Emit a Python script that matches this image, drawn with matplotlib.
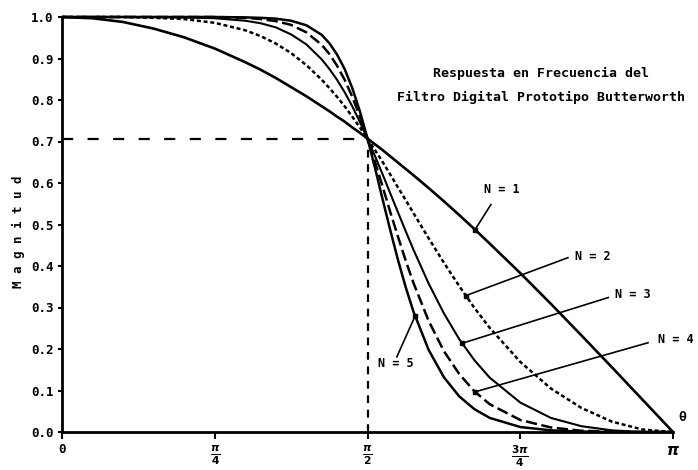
import numpy as np
import matplotlib
matplotlib.use('Agg')
import matplotlib.pyplot as plt

# Frequency (in units of pi) and magnitude, one list per order N
w_pi = [0, .05, .1, .15, .2, .25, .3, .325, .35, .375, .4, .425, .4375, .45, .4625,
        .475, .4875, .5, .5125, .525, .5375, .55, .5625, .575, .6, .625, .65, .675,
        .7, .75, .8, .85, .9, .95, 1.0]
mag_n1 = [1.000, 0.997, 0.988, 0.972, 0.951, 0.924, 0.891, 0.873, 0.853, 0.831,
          0.809, 0.785, 0.773, 0.760, 0.748, 0.734, 0.721, 0.707, 0.693, 0.679,
          0.664, 0.649, 0.634, 0.619, 0.588, 0.556, 0.523, 0.489, 0.454, 0.383,
          0.309, 0.233, 0.156, 0.078, 0.000]
mag_n2 = [1.000, 1.000, 1.000, 0.998, 0.995, 0.986, 0.968, 0.954, 0.936, 0.913,
          0.884, 0.849, 0.829, 0.808, 0.785, 0.760, 0.734, 0.707, 0.679, 0.650,
          0.620, 0.589, 0.559, 0.528, 0.467, 0.408, 0.352, 0.299, 0.251, 0.169,
          0.105, 0.058, 0.025, 0.006, 0.000]
mag_n3 = [1.000, 1.000, 1.000, 1.000, 0.999, 0.997, 0.991, 0.985, 0.975, 0.958,
          0.934, 0.898, 0.875, 0.849, 0.819, 0.785, 0.747, 0.707, 0.664, 0.620,
          0.574, 0.529, 0.484, 0.440, 0.358, 0.286, 0.224, 0.173, 0.131, 0.071,
          0.034, 0.014, 0.004, 0.000, 0.000]
mag_n4 = [1.000, 1.000, 1.000, 1.000, 1.000, 1.000, 0.998, 0.995, 0.990, 0.981,
          0.963, 0.933, 0.911, 0.883, 0.849, 0.808, 0.760, 0.707, 0.650, 0.590,
          0.529, 0.470, 0.413, 0.360, 0.268, 0.195, 0.140, 0.098, 0.067, 0.029,
          0.011, 0.003, 0.001, 0.000, 0.000]
mag_n5 = [1.000, 1.000, 1.000, 1.000, 1.000, 1.000, 0.999, 0.998, 0.996, 0.991,
          0.980, 0.957, 0.937, 0.910, 0.875, 0.829, 0.773, 0.707, 0.635, 0.559,
          0.485, 0.414, 0.349, 0.291, 0.198, 0.132, 0.086, 0.055, 0.034, 0.012,
          0.004, 0.001, 0.000, 0.000, 0.000]

orders = [1, 2, 3, 4, 5]
curves = [mag_n1, mag_n2, mag_n3, mag_n4, mag_n5]
cutoff = 0.707

xtick_pos = [0, 0.25, 0.5, 0.75, 1.0]
xtick_labels = ['0', r'$\frac{\pi}{4}$', r'$\frac{\pi}{2}$', r'$\frac{3\pi}{4}$', r'$\pi$']
ytick_pos = [0.0, 0.1, 0.2, 0.3, 0.4, 0.5, 0.6, 0.7, 0.8, 0.9, 1.0]

# where each "N = k" pointer touches its curve (x in units of pi)
pointer_x = [0.676, 0.661, 0.655, 0.676, 0.578]

plt.rcParams['font.family'] = ['DejaVu Sans Mono']
plt.rcParams['font.weight'] = 'bold'

fig = plt.figure(figsize=(6.98, 4.70), dpi=100)
ax = fig.add_axes([62 / 698, 38 / 470, 611 / 698, 415 / 470])

w = np.array(w_pi) * np.pi
styles = [
    dict(ls='-', lw=1.9),
    dict(ls=(0, (1.6, 1.1)), lw=1.8),
    dict(ls='-', lw=1.5),
    dict(ls=(0, (4.5, 1.8)), lw=1.8),
    dict(ls='-', lw=1.8),
]
for mag, st in zip(curves, styles):
    ax.plot(w, mag, color='black', clip_on=False, solid_capstyle='butt',
            solid_joinstyle='round', **st)

# -3 dB reference lines
ax.plot([0, np.pi / 2], [cutoff, cutoff], color='black', lw=1.6,
        ls=(0, (5, 6.5)))
ax.plot([np.pi / 2, np.pi / 2], [0, cutoff], color='black', lw=1.6,
        ls=(0, (3.5, 3)))

# pointers for the order labels
label_text = [(0.720, 0.585), (0.869, 0.423), (0.935, 0.331), (1.005, 0.222), (0.547, 0.164)]
line_start = [(0.702, 0.548), (0.828, 0.420), (0.894, 0.324), (0.959, 0.215), (0.548, 0.181)]
for n, mag, px, (tx, ty), (sx, sy) in zip(orders, curves, pointer_x, label_text, line_start):
    py = np.interp(px, w_pi, mag)
    ax.plot([sx * np.pi, px * np.pi], [sy, py], color='black', lw=1.2, clip_on=False)
    ax.plot(px * np.pi, py, 's', color='black', ms=3.5, clip_on=False)
    ax.text(tx * np.pi, ty, 'N = %d' % n, ha='center', va='center', fontsize=8.5,
            fontweight='bold', clip_on=False)

ax.text(1.015 * np.pi, 0.036, 'θ', ha='center', va='center', fontsize=9.5, fontweight='bold')

fig.text(541 / 698, 1 - 73 / 470, 'Respuesta en Frecuencia del', ha='center', va='center',
         fontsize=9.5, fontweight='bold')
fig.text(541 / 698, 1 - 97 / 470, 'Filtro Digital Prototipo Butterworth', ha='center',
         va='center', fontsize=9.5, fontweight='bold')
fig.text(18 / 698, 1 - 232 / 470, 'M a g n i t u d', rotation=90, ha='center', va='center',
         fontsize=9, fontweight='bold')

ax.set_xlim(0, np.pi)
ax.set_ylim(0, 1.0)
ax.set_xticks(np.array(xtick_pos) * np.pi)
ax.set_xticklabels(xtick_labels, fontsize=11)
ax.get_xticklabels()[0].set_fontsize(9)
ax.set_yticks(ytick_pos)
ax.set_yticklabels(['%.1f' % v for v in ytick_pos], fontsize=9, fontweight='bold')
ax.tick_params(axis='y', direction='out', length=3, width=1.5, pad=3)
ax.tick_params(axis='x', direction='out', length=5, width=1.5, pad=3)

for side in ['top', 'right']:
    ax.spines[side].set_visible(False)
for side in ['left', 'bottom']:
    ax.spines[side].set_linewidth(2)

fig.savefig('out.png', dpi=100)
